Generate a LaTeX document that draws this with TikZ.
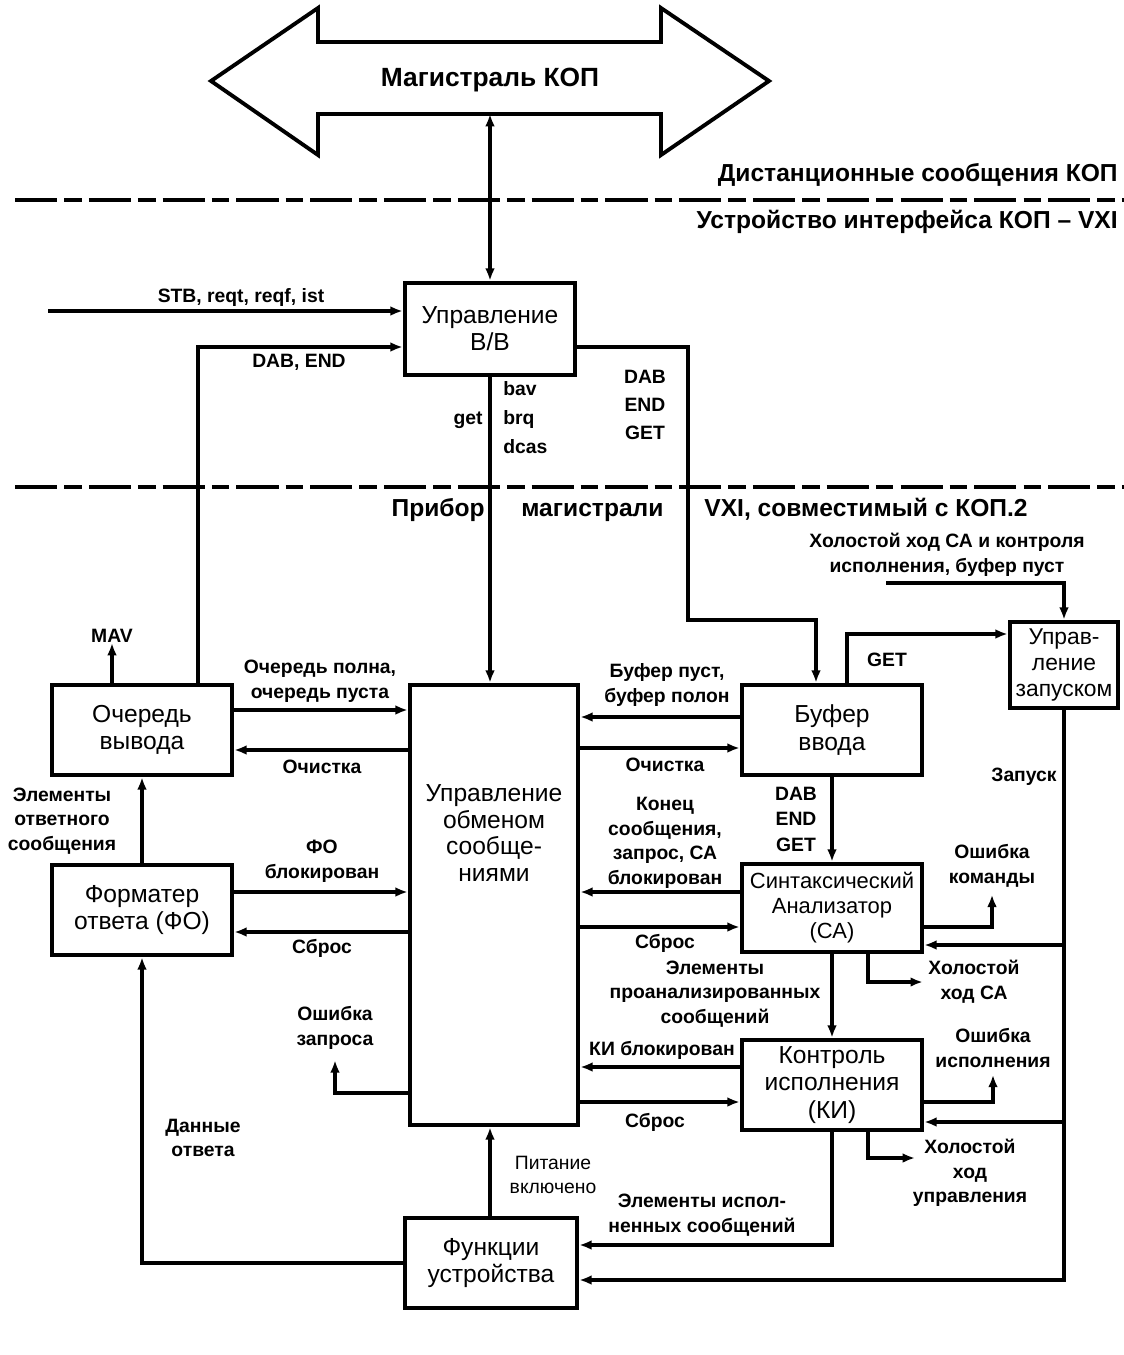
\documentclass[tikz,border=0pt]{standalone}
\usepackage{fontspec}
\setmainfont{Liberation Sans}
\usetikzlibrary{calc, positioning, arrows.meta}

\begin{document}
\begin{tikzpicture}[
  x=0.02cm, y=-0.02cm,
  >={Latex[length=7pt,width=5.5pt]},
  blok/.style={draw, line width=2.6pt, inner sep=0pt, align=center,
               font=\fontsize{14}{15.5}\selectfont},
  conn/.style={line width=2pt},
  lbl/.style={font=\bfseries\fontsize{11}{14}\selectfont, align=center, inner sep=0pt},
  lblr/.style={font=\fontsize{11}{14}\selectfont, align=center, inner sep=0pt},
  head/.style={font=\bfseries\fontsize{14}{16}\selectfont, inner sep=0pt},
  sepline/.style={line width=2.4pt, dash pattern=on 24pt off 4pt on 10pt off 4pt}
]
\useasboundingbox (0,0) rectangle (1124,1355);

% ---------- Магистраль КОП ----------
\draw[line width=2.2pt, line join=miter]
  (211,81) -- (318,8) -- (318,42) -- (661,42) -- (661,8) -- (769,81)
  -- (661,155) -- (661,114) -- (318,114) -- (318,155) -- cycle;
\node[head, font=\bfseries\fontsize{15}{17}\selectfont] (bus) at (490,80) {Магистраль КОП};
\coordinate (busbot) at (490,114);

% ---------- Разделители ----------
\draw[sepline] (15,200) -- (1124,200);
\draw[sepline] (15,487) -- (1124,487);
\node[head, anchor=east] (remote) at (1118,175) {Дистанционные сообщения КОП};
\node[head, anchor=east] (iface) at (1118,222) {Устройство интерфейса КОП – VXI};
\node[head, anchor=base east] (dev1) at (485,516) {Прибор};
\node[head, anchor=base west] (dev2) at (521,516) {магистрали};
\node[head, anchor=base west] (dev3) at (704,516) {VXI, совместимый с КОП.2};

% ---------- Блоки ----------
\node[blok, minimum width=3.4cm, minimum height=1.84cm] (bv) at (490,329) {Управление\\В/В};
\node[blok, minimum width=3.36cm, minimum height=8.8cm] (uo) at (494,905) {};
\node[blok, draw=none, font=\fontsize{14}{15.3}\selectfont] (uotxt) at (494,833)
  {Управление\\обменом\\сообще-\\ниями};
\node[blok, minimum width=3.6cm, minimum height=1.8cm] (q) at (142,730) {Очередь\\вывода};
\node[blok, minimum width=3.6cm, minimum height=1.8cm] (fo) at (142,910) {Форматер\\ответа (ФО)};
\node[blok, minimum width=3.44cm, minimum height=1.8cm] (fu) at (491,1263) {Функции\\устройства};
\node[blok, minimum width=3.6cm, minimum height=1.8cm] (buf) at (832,730) {Буфер\\ввода};
\node[blok, minimum width=3.6cm, minimum height=1.76cm,
      font=\fontsize{12.5}{14.2}\selectfont] (sa) at (832,908) {Синтаксический\\Анализатор\\(СА)};
\node[blok, minimum width=3.6cm, minimum height=1.8cm] (ki) at (832,1085) {Контроль\\исполнения\\(КИ)};
\node[blok, minimum width=2.16cm, minimum height=1.72cm,
      font=\fontsize{13}{15}\selectfont] (zap) at (1064,665) {Управ-\\ление\\запуском};

% ---------- Надписи ----------
\node[lbl] (stb) at (241,298) {STB, reqt, reqf, ist};
\node[lbl] (dabend) at (299,362) {DAB, END};
\node[lbl, font=\bfseries\fontsize{11}{16}\selectfont] (dabeg1) at (645,405) {DAB\\END\\GET};
\node[lbl, anchor=east] (getl) at (483,420) {get};
\node[lbl, anchor=west, align=left, font=\bfseries\fontsize{11}{16.5}\selectfont] (bavl) at (503,418) {bav\\brq\\dcas};
\node[lbl] (idlein) at (947,555) {Холостой ход СА и контроля\\исполнения, буфер пуст};
\node[lbl] (mavl) at (112,636) {MAV};
\node[lbl] (qfull) at (320,681) {Очередь полна,\\очередь пуста};
\node[lbl] (qclr) at (322,767) {Очистка};
\node[lbl] (bfull) at (667,685) {Буфер пуст,\\буфер полон};
\node[lbl] (bclr) at (665,765) {Очистка};
\node[lbl] (getr) at (887,660) {GET};
\node[lbl] (start) at (1024,777) {Запуск};
\node[lbl] (elans) at (62,821) {Элементы\\ответного\\сообщения};
\node[lbl] (foblk) at (322,861) {ФО\\блокирован};
\node[lbl] (fores) at (322,948) {Сброс};
\node[lbl, font=\bfseries\fontsize{11}{14.5}\selectfont] (dabeg2) at (796,819) {DAB\\END\\GET};
\node[lbl] (saend) at (665,843) {Конец\\сообщения,\\запрос, СА\\блокирован};
\node[lbl] (sares) at (665,943) {Сброс};
\node[lbl] (errc) at (992,866) {Ошибка\\команды};
\node[lbl] (idsa) at (974,982) {Холостой\\ход СА};
\node[lbl] (elpar) at (715,994) {Элементы\\проанализированных\\сообщений};
\node[lbl] (errq) at (335,1028) {Ошибка\\запроса};
\node[lbl] (kiblk) at (662,1050) {КИ блокирован};
\node[lbl] (kires) at (655,1122) {Сброс};
\node[lbl] (erre) at (993,1048) {Ошибка\\исполнения};
\node[lbl] (idki) at (970,1173) {Холостой\\ход\\управления};
\node[lbl] (dans) at (203,1138) {Данные\\ответа};
\node[lblr] (pwr) at (553,1175) {Питание\\включено};
\node[lbl] (elex) at (702,1215) {Элементы испол-\\ненных сообщений};

% ---------- Связи ----------
\coordinate (stbin) at (48,311);
\coordinate (idlestart) at (886,583);
\coordinate (idkiarr) at (915,1158);

\draw[conn,<->] (busbot) -- (bv.north);
\draw[conn,->] (stbin) -- (stbin -| bv.west);
\draw[conn,->] (q.north -| 198,0) |- (bv.west |- 0,347);
\draw[conn,->] (bv.east |- 0,347) -| (688,620) -| (buf.north -| 816,0);
\draw[conn,->] (bv.south) -- (bv.south |- uo.north);
\draw[conn,->] (q.north -| mavl) -- (mavl.south);
\draw[conn,->] (q.east |- 0,710) -- (uo.west |- 0,710);
\draw[conn,->] (uo.west |- 0,750) -- (q.east |- 0,750);
\draw[conn,->] (fo.north) -- (q.south);
\draw[conn,->] (fo.east |- 0,892) -- (uo.west |- 0,892);
\draw[conn,->] (uo.west |- 0,932) -- (fo.east |- 0,932);
\draw[conn,->] (uo.west |- 0,1093) -| ([yshift=-6pt]errq.south);
\draw[conn,->] (fu.west) -| (fo.south);
\draw[conn,->] (fu.north -| 490,0) -- (uo.south -| 490,0);
\draw[conn,->] (buf.west |- 0,717) -- (uo.east |- 0,717);
\draw[conn,->] (uo.east |- 0,748) -- (buf.west |- 0,748);
\draw[conn,->] (buf.south) -- (sa.north);
\draw[conn,->] (sa.west |- 0,892) -- (uo.east |- 0,892);
\draw[conn,->] (uo.east |- 0,927) -- (sa.west |- 0,927);
\draw[conn,->] (sa.east |- 0,927) -| ([yshift=-4pt]errc.south);
\draw[conn,->] (sa.south -| 868,0) |- ([xshift=-3pt]idsa.west);
\draw[conn,->] (sa.south) -- (ki.north);
\draw[conn,->] (ki.west |- 0,1067) -- (uo.east |- 0,1067);
\draw[conn,->] (uo.east |- 0,1102) -- (ki.west |- 0,1102);
\draw[conn,->] (ki.east |- 0,1102) -| ([yshift=-4pt]erre.south);
\draw[conn,->] (ki.south -| 868,0) |- (idkiarr);
\draw[conn,->] (ki.south) |- (fu.east |- 0,1245);
\draw[conn,->] (buf.north -| 847,0) |- (zap.west |- 0,634);
\draw[conn,->] (idlestart) -| (zap.north);
\draw[conn,->] (zap.south) |- (sa.east |- 0,945);
\draw[conn,->] (zap.south) |- (ki.east |- 0,1122);
\draw[conn,->] (zap.south) |- (fu.east |- 0,1280);

\end{tikzpicture}
\end{document}
